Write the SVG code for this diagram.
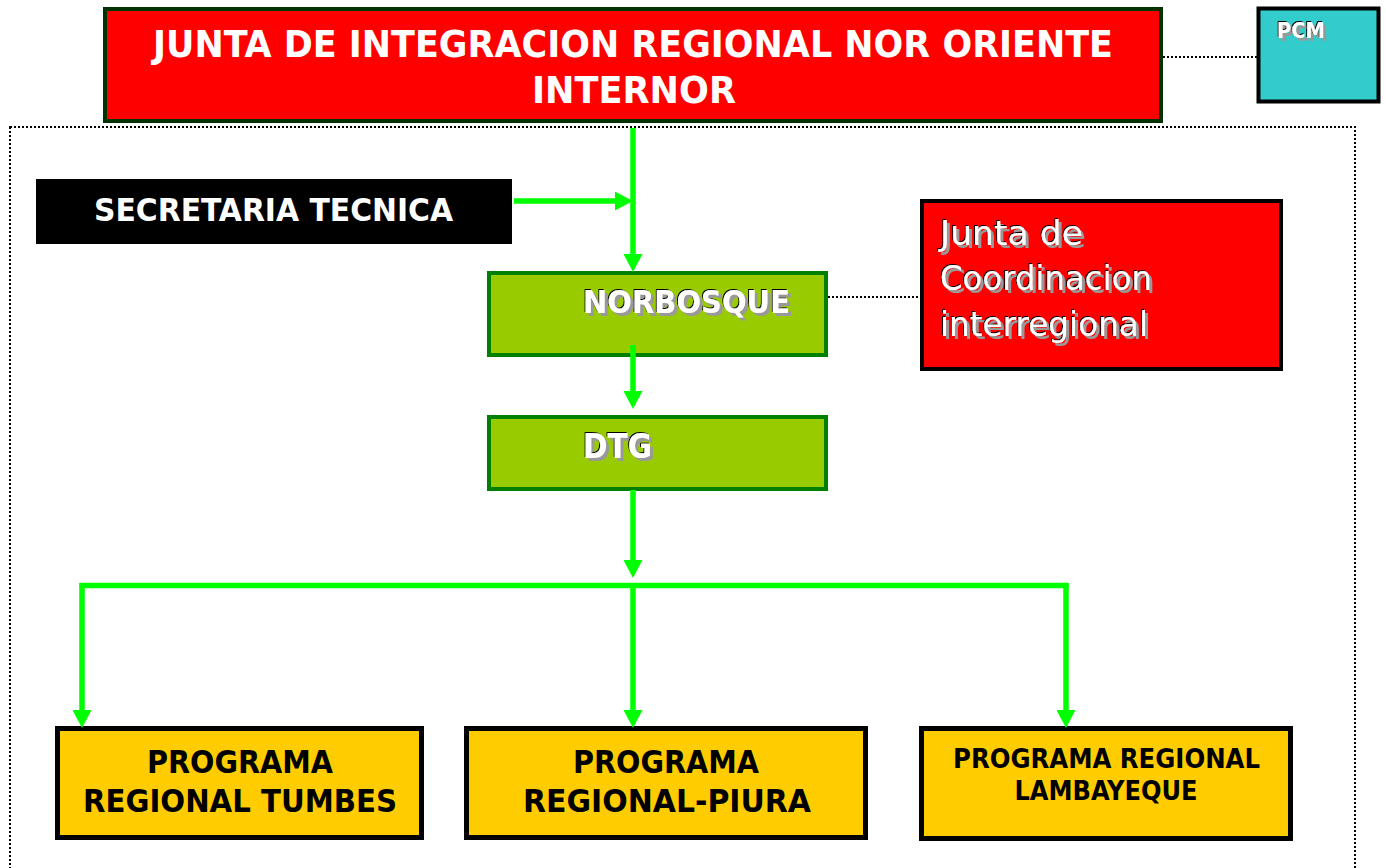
<svg xmlns="http://www.w3.org/2000/svg" width="1386" height="868" viewBox="0 0 1386 868">
<defs>
<style>
.b{font-family:"DejaVu Sans Condensed","DejaVu Sans",sans-serif;font-weight:bold}
.r{font-family:"DejaVu Sans Condensed","DejaVu Sans",sans-serif;font-weight:normal}
.w{fill:#FFFFFF}
.k{fill:#000000}
.sh{filter:url(#emb)}
.dot{fill:none;stroke:#000;stroke-width:2;stroke-dasharray:2 2}
.con{fill:none;stroke:#00FF00;stroke-width:5.5}
.arr{marker-end:url(#ah)}
.grn{fill:#99CC00;stroke:#008000;stroke-width:4}
.yel{fill:#FFCC00;stroke:#000;stroke-width:5}
</style>
<filter id="emb" x="-10%" y="-20%" width="120%" height="140%">
<feOffset in="SourceAlpha" dx="2.5" dy="2.5" result="o1"/>
<feFlood flood-color="#999999"/>
<feComposite in2="o1" operator="in" result="gray"/>
<feOffset in="SourceAlpha" dx="-1.5" dy="-1.5" result="o2"/>
<feFlood flood-color="#000000"/>
<feComposite in2="o2" operator="in" result="blk"/>
<feMerge><feMergeNode in="gray"/><feMergeNode in="blk"/><feMergeNode in="SourceGraphic"/></feMerge>
</filter>
<marker id="ah" markerUnits="userSpaceOnUse" markerWidth="19" markerHeight="19" refX="9" refY="9.5" orient="auto">
<path d="M0,0 L18,9.5 L0,19 z" fill="#00FF00"/>
</marker>
</defs>
<rect width="1386" height="868" fill="#FFFFFF"/>
<rect class="dot" x="10" y="127" width="1345" height="770"/>
<g id="dotted-links">
<line class="dot" x1="1163" y1="57" x2="1257" y2="57"/>
<line class="dot" x1="828" y1="297" x2="921" y2="297"/>
</g>
<g id="junta-integracion">
<rect x="105" y="9" width="1056" height="112" fill="#FF0000" stroke="#003300" stroke-width="4"/>
<text class="b w" x="633" y="57" font-size="38" text-anchor="middle" textLength="960" lengthAdjust="spacingAndGlyphs">JUNTA DE INTEGRACION REGIONAL NOR ORIENTE</text>
<text class="b w" x="634" y="103" font-size="38" text-anchor="middle" textLength="204" lengthAdjust="spacingAndGlyphs">INTERNOR</text>
</g>
<g id="pcm">
<rect x="1258.5" y="8.5" width="120" height="93" fill="#33CCCC" stroke="#000" stroke-width="4"/>
<text class="b w sh" x="1277" y="38" font-size="21" textLength="48" lengthAdjust="spacingAndGlyphs">PCM</text>
</g>
<g id="secretaria">
<rect x="36" y="179" width="476" height="65" fill="#000"/>
<text class="b w" x="94" y="221" font-size="32" textLength="359" lengthAdjust="spacingAndGlyphs">SECRETARIA TECNICA</text>
</g>
<g id="norbosque">
<rect class="grn" x="489" y="273" width="337" height="82"/>
<text class="b w sh" x="583" y="313" font-size="32" textLength="207" lengthAdjust="spacingAndGlyphs">NORBOSQUE</text>
</g>
<g id="dtg">
<rect class="grn" x="489" y="417" width="337" height="72"/>
<text class="b w sh" x="583" y="458" font-size="33" textLength="69" lengthAdjust="spacingAndGlyphs">DTG</text>
</g>
<g id="junta-coordinacion">
<rect x="922" y="201" width="359" height="168" fill="#FF0000" stroke="#000" stroke-width="4"/>
<g class="r w sh" font-size="34">
<text x="940" y="245" textLength="143" lengthAdjust="spacingAndGlyphs">Junta de</text>
<text x="940" y="290" textLength="212" lengthAdjust="spacingAndGlyphs">Coordinacion</text>
<text x="940" y="336" textLength="208" lengthAdjust="spacingAndGlyphs">interregional</text>
</g>
</g>
<g id="tumbes">
<rect class="yel" x="57.5" y="728.5" width="364" height="109"/>
<text class="b k" x="240" y="773" font-size="32" text-anchor="middle" textLength="186" lengthAdjust="spacingAndGlyphs">PROGRAMA</text>
<text class="b k" x="240" y="812" font-size="32" text-anchor="middle" textLength="314" lengthAdjust="spacingAndGlyphs">REGIONAL TUMBES</text>
</g>
<g id="piura">
<rect class="yel" x="466.5" y="728.5" width="399" height="109"/>
<text class="b k" x="666" y="773" font-size="32" text-anchor="middle" textLength="186" lengthAdjust="spacingAndGlyphs">PROGRAMA</text>
<text class="b k" x="667" y="812" font-size="32" text-anchor="middle" textLength="288" lengthAdjust="spacingAndGlyphs">REGIONAL-PIURA</text>
</g>
<g id="lambayeque">
<rect class="yel" x="921.5" y="728.5" width="369" height="110"/>
<text class="b k" x="1106.5" y="768" font-size="27" text-anchor="middle" textLength="307" lengthAdjust="spacingAndGlyphs">PROGRAMA REGIONAL</text>
<text class="b k" x="1106" y="800" font-size="27" text-anchor="middle" textLength="183" lengthAdjust="spacingAndGlyphs">LAMBAYEQUE</text>
</g>
<g id="connectors">
<path class="con arr" d="M514,201 H624"/>
<path class="con arr" d="M633,128 V263"/>
<path class="con arr" d="M633,345 V400"/>
<path class="con arr" d="M633,490 V569"/>
<path class="con" d="M79.5,585.5 H1068.5"/>
<path class="con arr" d="M82,583 V719"/>
<path class="con arr" d="M633,585 V719"/>
<path class="con arr" d="M1066,583 V719"/>
</g>
</svg>
